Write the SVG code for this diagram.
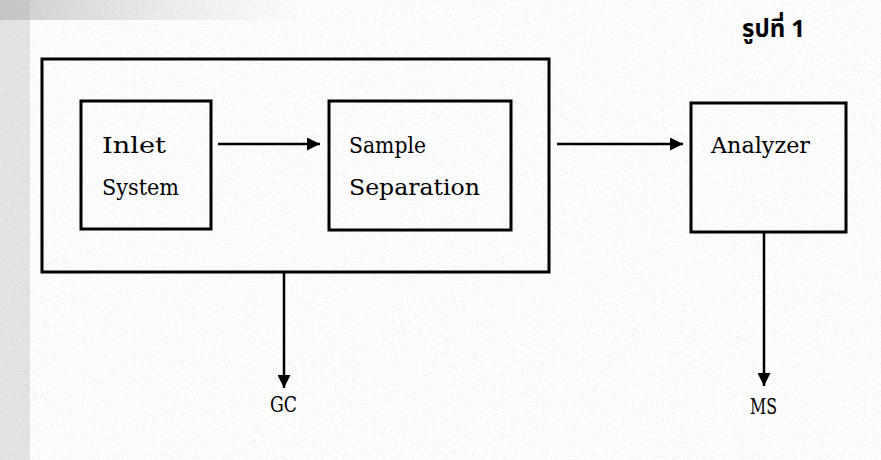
<svg xmlns="http://www.w3.org/2000/svg" width="881" height="460" viewBox="0 0 881 460">
<defs>
<style>
.box{fill:none;stroke:#000;stroke-width:3}
.ln{stroke:#000;stroke-width:2.5;fill:none}
.t{font-family:"DejaVu Serif","Liberation Serif",serif;font-size:23px;fill:#000}
.th{font-family:"Noto Sans Thai","Noto Sans","DejaVu Sans",sans-serif;font-size:24px;font-weight:bold;fill:#000}
</style>
<marker id="ah" viewBox="0 0 10 10" refX="10" refY="5" markerWidth="13" markerHeight="13" markerUnits="userSpaceOnUse" orient="auto">
<path d="M0,0 L10,5 L0,10 Z" fill="#000"/>
</marker>
<filter id="noise" x="0" y="0" width="100%" height="100%">
<feTurbulence type="fractalNoise" baseFrequency="0.9" numOctaves="2" seed="3"/>
<feColorMatrix type="matrix" values="0 0 0 0 0.55 0 0 0 0 0.55 0 0 0 0 0.55 0 0 0 -2.2 1.25"/>
</filter>
<linearGradient id="tl" x1="0" y1="0" x2="1" y2="0">
<stop offset="0" stop-color="#9a9a9a" stop-opacity="0.8"/>
<stop offset="1" stop-color="#bbbbbb" stop-opacity="0"/>
</linearGradient>
</defs>
<rect width="881" height="460" fill="#fff"/>
<rect width="881" height="460" filter="url(#noise)" opacity="0.35"/>
<rect x="0" y="0" width="300" height="20" fill="url(#tl)" opacity="0.6"/>
<rect x="0" y="0" width="30" height="460" fill="#b5b5b5" opacity="0.35"/>
<text class="th" x="742" y="37">รูปที่ 1</text>
<g id="outer"><rect class="box" x="42" y="59" width="507" height="213"/></g>
<g id="inlet"><rect class="box" x="81" y="101" width="130" height="128"/>
<text class="t" x="102" y="153" textLength="64" lengthAdjust="spacingAndGlyphs">Inlet</text>
<text class="t" x="102" y="195" textLength="77" lengthAdjust="spacingAndGlyphs">System</text></g>
<g id="sample"><rect class="box" x="329" y="101" width="182" height="129"/>
<text class="t" x="349" y="153" textLength="77" lengthAdjust="spacingAndGlyphs">Sample</text>
<text class="t" x="349" y="195" textLength="131" lengthAdjust="spacingAndGlyphs">Separation</text></g>
<g id="analyzer"><rect class="box" x="691" y="103" width="155" height="129"/>
<text class="t" x="711" y="153" textLength="99" lengthAdjust="spacingAndGlyphs">Analyzer</text></g>
<g id="gc"><text class="t" x="270" y="412" textLength="27" lengthAdjust="spacingAndGlyphs">GC</text></g>
<g id="ms"><text class="t" x="750" y="414" textLength="27" lengthAdjust="spacingAndGlyphs">MS</text></g>
<g id="connectors">
<line class="ln" x1="218" y1="144" x2="320" y2="144" marker-end="url(#ah)"/>
<line class="ln" x1="557" y1="144" x2="683" y2="144" marker-end="url(#ah)"/>
<line class="ln" x1="284" y1="273" x2="284" y2="388" marker-end="url(#ah)"/>
<line class="ln" x1="764" y1="233" x2="764" y2="386" marker-end="url(#ah)"/>
</g>
</svg>
